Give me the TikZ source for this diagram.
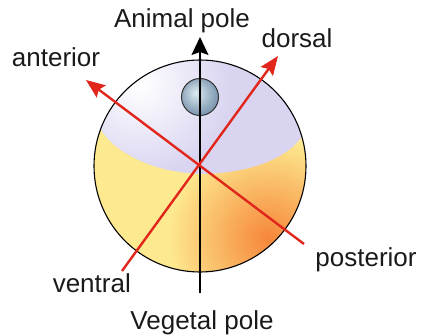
\documentclass[tikz,border=0pt]{standalone}
\usepackage{fontspec}
\setmainfont{Liberation Sans}
\usetikzlibrary{arrows.meta}

\definecolor{axisred}{HTML}{E1261C}
\definecolor{capviolet}{HTML}{D9D5F1}
\definecolor{yolkyellow}{HTML}{FDE98F}
\definecolor{yolkorange}{HTML}{F6873A}
\definecolor{nuclight}{HTML}{DCEBF2}
\definecolor{nucdark}{HTML}{7893AC}
\definecolor{labelgray}{HTML}{1A1A1A}

% soft radial fades, reaching the outer colour at the edge of the shaded path
\pgfdeclareradialshading{capglow}{\pgfpoint{0bp}{0bp}}{color(0bp)=(white); color(25bp)=(capviolet); color(50bp)=(capviolet)}
\pgfdeclareradialshading{yolkglow}{\pgfpoint{0bp}{0bp}}{color(0bp)=(yolkorange); color(9bp)=(yolkorange!65!yolkyellow); color(25bp)=(yolkyellow); color(50bp)=(yolkyellow)}
\pgfdeclareradialshading{nucball}{\pgfpoint{-6bp}{6bp}}{color(0bp)=(nuclight); color(28bp)=(nucdark); color(50bp)=(nucdark)}

\tikzset{
    axis/.style={line width=1.6pt, -{Stealth[length=18pt,width=17pt,inset=3pt]}},
    redaxis/.style={line width=2.4pt, axisred, -{Stealth[length=19pt,width=15pt,inset=3pt]}},
    lbl/.style={anchor=base, inner sep=0pt, text=labelgray, font=\fontsize{26}{30}\selectfont}
}

\begin{document}
\begin{tikzpicture}[x=1pt,y=-1pt]
        \useasboundingbox (0,0) rectangle (421,336);

        % egg body
        \begin{scope}
            \clip (200,166) circle (106);
            \fill[yolkyellow] (200,166) circle (106);
            \shade[shading=yolkglow] (268,238) circle (100);
            \fill[capviolet] (90,128) -- (100,128) .. controls (112,150) and (150,172) .. (200,174)
                .. controls (240,174) and (290,162) .. (306,130) -- (310,50) -- (90,50) -- cycle;
            \begin{scope}
                \clip (90,128) -- (100,128) .. controls (112,150) and (150,172) .. (200,174)
                    .. controls (240,174) and (290,162) .. (306,130) -- (310,50) -- (90,50) -- cycle;
                \shade[shading=capglow] (140,85) circle (90);
            \end{scope}
        \end{scope}
        \draw[line width=1.1pt] (200,166) circle (106);

        % nucleus
        \shade[shading=nucball] (200,97) circle (18.5);
        \draw[line width=1pt, black!80] (200,97) circle (18.5);

        % axes
        \coordinate(vegend) at (200,293);
        \coordinate(animaltip) at (200,37);
        \coordinate(anttip) at (86,80);
        \coordinate(postend) at (304,244);
        \coordinate(dorstip) at (278,56);
        \coordinate(ventend) at (122,271);

        \draw[axis] (vegend) -- (animaltip);
        \draw[redaxis] (postend) -- (anttip);
        \draw[redaxis] (ventend) -- (dorstip);

        % labels
        \node(animal) at (182,28) [lbl]{Animal pole};
        \node(vegetal) at (202,330) [lbl]{Vegetal pole};
        \node(dorsal) at (297,48) [lbl]{dorsal};
        \node(anterior) at (56,67) [lbl]{anterior};
        \node(posterior) at (366,267) [lbl]{posterior};
        \node(ventral) at (131,293) [lbl, anchor=base east]{ventral};

    \end{tikzpicture}
\end{document}
